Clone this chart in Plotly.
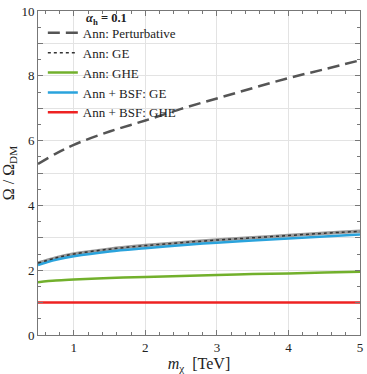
import plotly.graph_objects as go

# m_chi in TeV
mass = [0.5, 0.75, 1, 1.5, 2, 2.5, 3, 3.5, 4, 4.5, 5]
ann_pert = [5.28, 5.6, 5.87, 6.28, 6.62, 6.98, 7.3, 7.62, 7.93, 8.2, 8.48]
ann_ge = [2.22, 2.38, 2.5, 2.65, 2.76, 2.85, 2.93, 3.0, 3.07, 3.14, 3.2]
ann_ghe = [1.63, 1.68, 1.71, 1.76, 1.79, 1.82, 1.85, 1.88, 1.9, 1.93, 1.95]
bsf_ge = [2.16, 2.32, 2.43, 2.58, 2.68, 2.77, 2.85, 2.92, 2.98, 3.04, 3.1]
bsf_ghe = [1.0] * len(mass)

y_ticks = list(range(0, 11))
y_labels = [str(v) if v % 2 == 0 else "" for v in y_ticks]

font = "Liberation Serif, DejaVu Serif, serif"

fig = go.Figure()

fig.add_trace(go.Scatter(x=mass, y=ann_pert, mode="lines", line_shape="spline",
                         name="Ann: Perturbative",
                         line=dict(color="#555555", width=2.5, dash="12px,6px")))
# gray underlay for the GE band
fig.add_trace(go.Scatter(x=mass, y=ann_ge, mode="lines", line_shape="spline",
                         showlegend=False, hoverinfo="skip",
                         line=dict(color="#9a9a9a", width=3.5)))
fig.add_trace(go.Scatter(x=mass, y=bsf_ge, mode="lines", line_shape="spline",
                         name="Ann + BSF: GE",
                         line=dict(color="#2aa3dc", width=2.5)))
fig.add_trace(go.Scatter(x=mass, y=ann_ge, mode="lines", line_shape="spline",
                         name="Ann: GE",
                         line=dict(color="#333333", width=1.5, dash="dot")))
fig.add_trace(go.Scatter(x=mass, y=ann_ghe, mode="lines", line_shape="spline",
                         name="Ann: GHE",
                         line=dict(color="#72b02c", width=2.5)))
fig.add_trace(go.Scatter(x=mass, y=bsf_ghe, mode="lines",
                         name="Ann + BSF: GHE",
                         line=dict(color="#ee2222", width=2.5)))

fig.update_layout(
    width=367, height=374,
    margin=dict(l=35, r=4, t=7, b=38),
    plot_bgcolor="white", paper_bgcolor="white",
    font=dict(family=font, size=13, color="#222222"),
    legend=dict(
        x=0.015, y=0.979, xanchor="left", yanchor="top",
        bgcolor="rgba(0,0,0,0)", font=dict(size=13),
        traceorder="normal", itemwidth=30, tracegroupgap=0,
    ),
    xaxis=dict(
        range=[0.5, 5], tickvals=[1, 2, 3, 4, 5],
        showgrid=True, gridcolor="#e3e3e3", gridwidth=1,
        showline=True, linecolor="#777777", linewidth=1, mirror="ticks",
        ticks="inside", ticklen=5, tickcolor="#777777", zeroline=False,
        ticklabeloverflow="allow",
        minor=dict(dtick=0.2, tick0=0, ticks="inside", ticklen=3,
                   tickcolor="#777777", showgrid=False),
        title=dict(text="<i>m</i><sub>χ</sub>  [TeV]", standoff=4),
    ),
    yaxis=dict(
        range=[0, 10], tickvals=y_ticks, ticktext=y_labels,
        showgrid=True, gridcolor="#e3e3e3", gridwidth=1,
        showline=True, linecolor="#777777", linewidth=1, mirror="ticks",
        ticks="inside", ticklen=5, tickcolor="#777777", zeroline=False,
        ticklabeloverflow="allow",
        minor=dict(dtick=0.5, tick0=0, ticks="inside", ticklen=3,
                   tickcolor="#777777", showgrid=False),
        title=dict(text="Ω / Ω<sub>DM</sub>", standoff=6),
    ),
)

# legend title, indented to the text column
fig.add_annotation(text="<b><i>α</i><sub>h</sub> = 0.1</b>",
                   xref="paper", yref="paper", x=0.143, y=0.975,
                   xanchor="left", yanchor="middle", showarrow=False,
                   font=dict(size=12.5))

# legend order as in the reference
order = {"Ann: Perturbative": 1, "Ann: GE": 2, "Ann: GHE": 3,
         "Ann + BSF: GE": 4, "Ann + BSF: GHE": 5}
for tr in fig.data:
    if tr.name in order:
        tr.legendrank = order[tr.name]

fig.write_html("out.html", config={"displayModeBar": False},
               post_script="document.body.style.margin='0';")
